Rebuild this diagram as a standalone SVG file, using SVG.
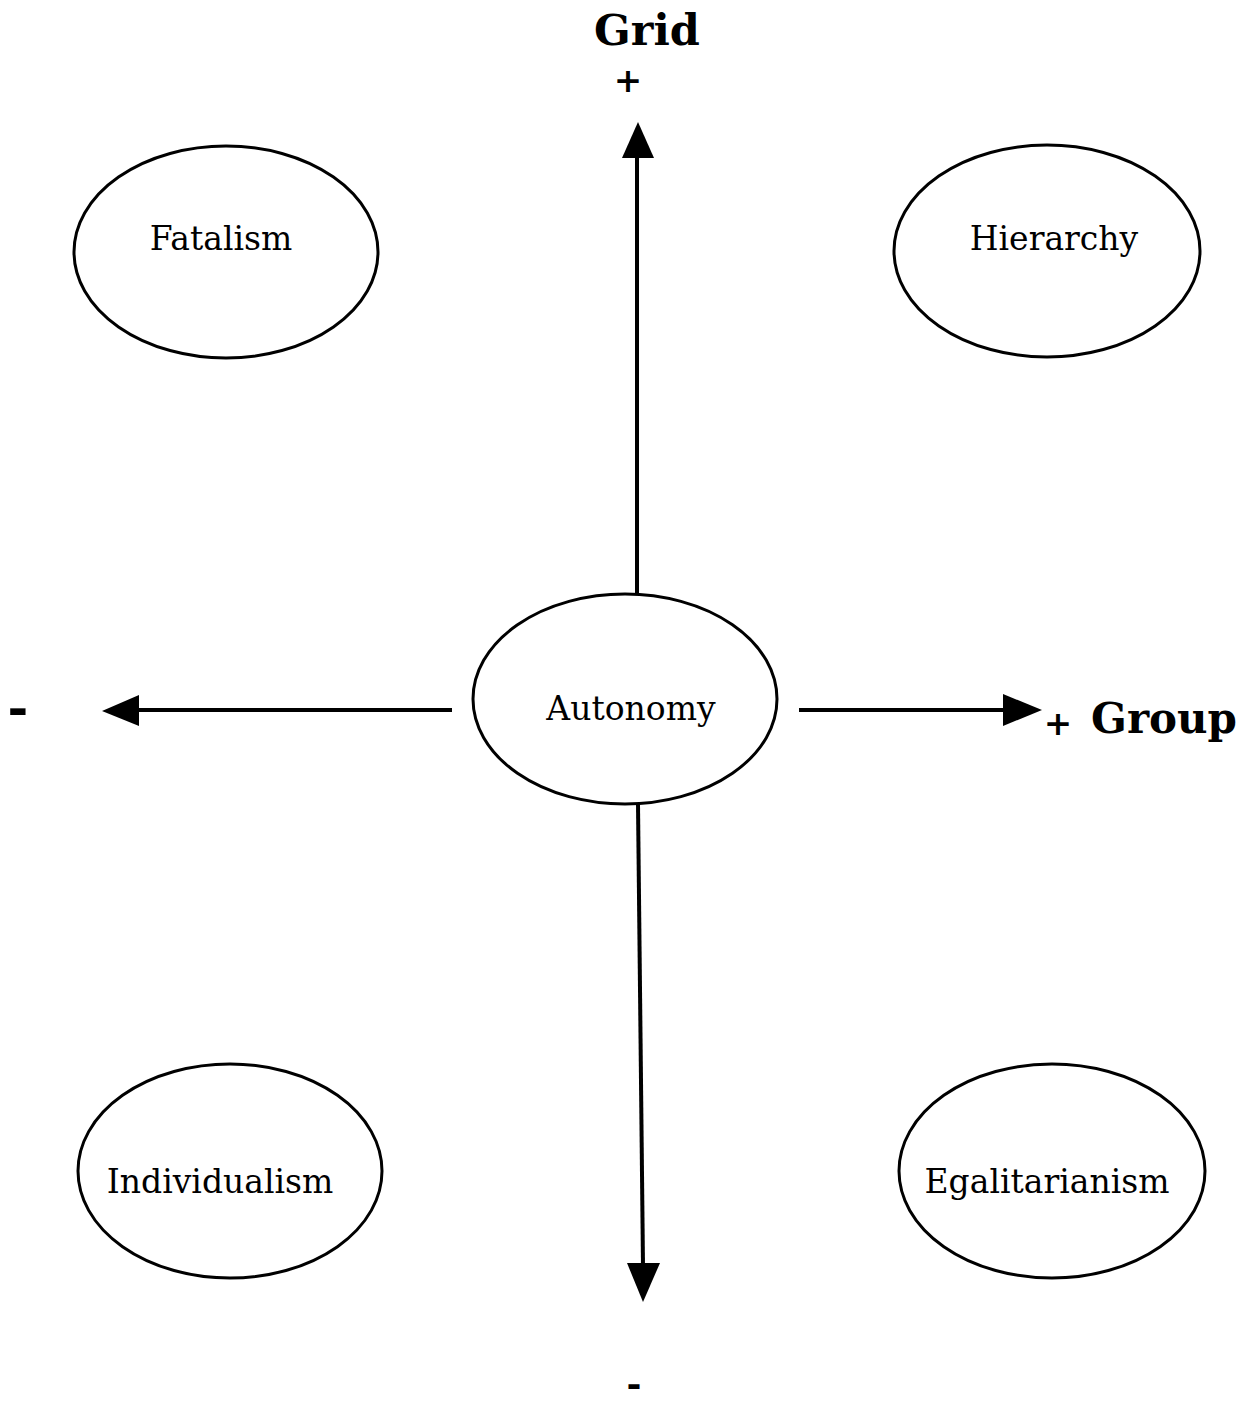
<svg xmlns="http://www.w3.org/2000/svg" width="1252" height="1406" viewBox="0 0 1252 1406">
  <style>
    .node { fill: none; stroke: #000; stroke-width: 3; }
    .label { font-family: "DejaVu Serif", "Liberation Serif", serif; font-size: 33px; fill: #000; text-anchor: middle; }
    .axis { font-family: "DejaVu Serif", "Liberation Serif", serif; font-weight: bold; fill: #000; }
    .conn { stroke: #000; stroke-width: 4; fill: none; }
    .head { fill: #000; }
  </style>
  <rect width="1252" height="1406" fill="#fff"/>

  <!-- axis captions -->
  <text class="axis" x="647" y="45" font-size="43" text-anchor="middle">Grid</text>
  <text class="axis" x="628" y="92" font-size="34" text-anchor="middle">+</text>
  <text class="axis" x="18" y="725" font-size="50" text-anchor="middle">-</text>
  <text class="axis" x="1058" y="735" font-size="34" text-anchor="middle">+</text>
  <text class="axis" x="1164" y="733" font-size="42" text-anchor="middle">Group</text>
  <text class="axis" x="634" y="1396" font-size="36" text-anchor="middle">-</text>

  <!-- connectors -->
  <g id="connectors">
    <line class="conn" x1="637" y1="593" x2="637" y2="155"/>
    <polygon class="head" points="638,122 622,158 654,158"/>
    <line class="conn" x1="638" y1="804" x2="643" y2="1266"/>
    <polygon class="head" points="627,1263 660,1263 643,1302"/>
    <line class="conn" x1="452" y1="710" x2="135" y2="710"/>
    <polygon class="head" points="102,711 139,695 139,726"/>
    <line class="conn" x1="799" y1="710" x2="1005" y2="710"/>
    <polygon class="head" points="1042,710 1003,694 1003,726"/>
  </g>

  <!-- culture types -->
  <g id="fatalism">
    <ellipse class="node" cx="226" cy="252" rx="152" ry="106"/>
    <text class="label" x="221" y="250">Fatalism</text>
  </g>
  <g id="hierarchy">
    <ellipse class="node" cx="1047" cy="251" rx="153" ry="106"/>
    <text class="label" x="1054" y="250">Hierarchy</text>
  </g>
  <g id="autonomy">
    <ellipse class="node" cx="625" cy="699" rx="152" ry="105"/>
    <text class="label" x="631" y="720" font-size="31">Autonomy</text>
  </g>
  <g id="individualism">
    <ellipse class="node" cx="230" cy="1171" rx="152" ry="107"/>
    <text class="label" x="220" y="1193">Individualism</text>
  </g>
  <g id="egalitarianism">
    <ellipse class="node" cx="1052" cy="1171" rx="153" ry="107"/>
    <text class="label" x="1047" y="1193">Egalitarianism</text>
  </g>
</svg>
